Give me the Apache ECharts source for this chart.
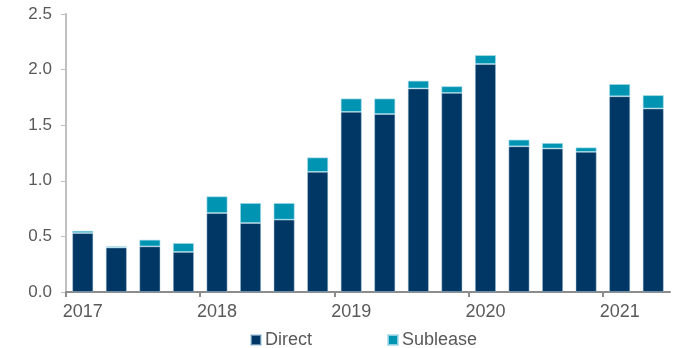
<!DOCTYPE html>
<html>
<head>
<meta charset="utf-8">
<script src="https://cdn.jsdelivr.net/npm/echarts@6/dist/echarts.min.js"></script>
<style>
html,body{margin:0;padding:0;background:#fff;}
#chart{width:677px;height:348px;}
</style>
</head>
<body>
<div id="chart"></div>
<script>
const categories = ['2017 Q1','2017 Q2','2017 Q3','2017 Q4','2018 Q1','2018 Q2','2018 Q3','2018 Q4','2019 Q1','2019 Q2','2019 Q3','2019 Q4','2020 Q1','2020 Q2','2020 Q3','2020 Q4','2021 Q1','2021 Q2'];
const direct =   [0.53, 0.40, 0.41, 0.36, 0.71, 0.62, 0.65, 1.08, 1.62, 1.60, 1.83, 1.79, 2.05, 1.31, 1.29, 1.26, 1.76, 1.65];
const sublease = [0.02, 0.01, 0.06, 0.08, 0.15, 0.18, 0.15, 0.13, 0.12, 0.14, 0.07, 0.06, 0.08, 0.06, 0.05, 0.04, 0.11, 0.12];
const yearTickPositions = [0, 4, 8, 12, 16];

const font = 'Liberation Sans, Arial, sans-serif';
const chart = echarts.init(document.getElementById('chart'), null, {renderer:'canvas'});
chart.setOption({
  animation: false,
  grid: {left: 66, right: 7, top: 14, bottom: 56, containLabel: false},
  legend: {
    data: ['Direct','Sublease'],
    left: 245, top: 326,
    icon: 'rect', itemWidth: 10, itemHeight: 10, itemGap: 75,
    textStyle: {color: '#595959', fontSize: 18, fontFamily: font, padding: [0,0,0,-1]}
  },
  xAxis: [
    {
      type: 'category', data: categories, boundaryGap: true,
      axisLine: {show: true, lineStyle: {color: '#8c8c8c', width: 2}},
      axisTick: {show: false},
      axisLabel: {interval: 3, color: '#595959', fontSize: 18, fontFamily: font, margin: 11,
        formatter: v => v.slice(0, 4)},
      splitLine: {show: false}
    },
    {
      type: 'value', min: 0, max: categories.length, position: 'bottom',
      axisLine: {show: false},
      axisTick: {show: true, length: 5, customValues: yearTickPositions, lineStyle: {color: '#8c8c8c', width: 2}},
      axisLabel: {show: false},
      splitLine: {show: false}
    }
  ],
  yAxis: {
    type: 'value', min: 0, max: 2.5, interval: 0.5,
    axisLine: {show: true, lineStyle: {color: '#bfbfbf', width: 2}},
    axisTick: {show: true, length: 5, lineStyle: {color: '#bfbfbf', width: 1}},
    axisLabel: {color: '#595959', fontSize: 17, fontFamily: font, margin: 14,
      formatter: v => v.toFixed(1)},
    splitLine: {show: false}
  },
  series: [
    {name: 'Direct', type: 'bar', stack: 'a', xAxisIndex: 0, data: direct, barWidth: 21,
      itemStyle: {color: '#003764', borderColor: 'rgba(170,200,220,0.6)', borderWidth: 0.8}},
    {name: 'Sublease', type: 'bar', stack: 'a', xAxisIndex: 0, data: sublease, barWidth: 21,
      itemStyle: {color: '#0094B3', borderColor: 'rgba(170,220,235,0.8)', borderWidth: 0.8}}
  ]
});
</script>
</body>
</html>
